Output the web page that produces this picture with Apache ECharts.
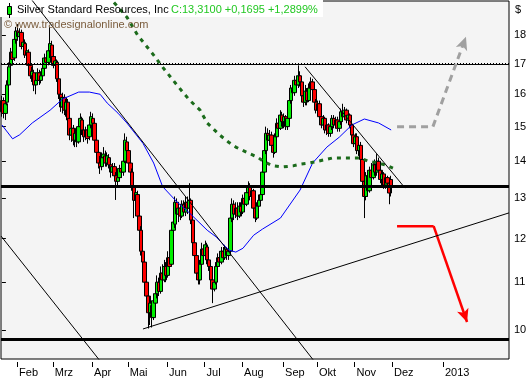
<!DOCTYPE html>
<html><head><meta charset="utf-8">
<script src="https://cdn.jsdelivr.net/npm/echarts@6/dist/echarts.min.js"></script>
<style>html,body{margin:0;padding:0;background:#fff}#c{width:531px;height:380px}</style>
</head><body><div id="c"></div>
<script>
// ---- data ----
const opens=[15.45,15.80,15.40,15.75,16.30,16.95,17.40,17.20,17.85,18.15,
17.95,18.10,17.60,17.70,17.30,17.40,16.95,16.60,16.70,16.30,
16.45,16.70,16.45,16.60,16.85,17.20,17.05,17.45,17.65,17.25,
16.95,17.05,16.50,16.00,15.60,15.90,15.50,15.75,15.25,14.75,
14.95,14.60,14.80,14.55,15.00,15.20,14.90,14.70,14.90,14.70,
15.05,15.25,15.10,14.60,14.25,13.95,13.85,14.10,14.15,13.95,
14.10,13.90,13.70,13.85,13.60,13.45,13.55,13.80,13.70,14.00,
14.55,14.30,13.95,13.70,13.30,12.95,13.10,12.55,12.20,11.70,
11.45,11.00,10.70,10.35,10.50,10.25,10.55,10.75,11.00,10.80,
11.20,11.05,11.35,11.15,11.55,11.40,12.20,12.35,12.90,12.60,
12.75,12.55,12.85,12.65,12.90,12.75,12.95,12.45,11.90,11.60,
11.20,11.05,11.40,11.75,11.60,11.80,11.50,11.35,11.05,10.85,
11.00,11.35,11.55,11.45,11.70,11.55,11.75,11.60,11.70,12.50,
12.85,12.60,12.75,12.55,12.80,12.65,13.00,12.85,13.15,13.30,
13.05,13.20,12.75,12.50,12.80,12.95,13.10,13.70,14.30,14.80,
14.60,14.75,14.45,14.25,14.70,15.10,14.95,15.35,15.15,15.30,
15.00,15.25,15.80,16.20,16.05,16.45,16.30,16.60,16.40,15.95,
15.75,16.10,15.80,16.20,16.40,16.15,15.75,15.50,15.70,15.30,
15.05,15.25,14.90,15.05,14.80,15.00,15.25,15.05,15.20,14.95,
15.15,15.45,15.30,15.50,15.20,15.35,15.05,14.75,14.50,14.70,
14.30,14.45,14.05,13.45,13.05,13.60,13.20,13.75,13.55,13.90,
13.70,14.00,13.75,13.50,13.65,13.35,13.55,13.40,13.50];
const closes=[15.80,15.40,15.70,16.30,16.90,17.40,17.15,17.85,18.15,17.95,
18.10,17.60,17.75,17.30,17.45,16.95,16.60,16.75,16.30,16.45,
16.70,16.45,16.60,16.85,17.20,17.05,17.45,17.70,17.25,16.95,
17.10,16.50,16.00,15.60,15.90,15.50,15.75,15.20,14.75,14.95,
14.60,14.80,14.55,15.00,15.25,14.90,14.70,14.90,14.65,15.05,
15.30,15.10,14.60,14.25,13.95,13.85,14.10,14.20,13.95,14.15,
13.90,13.70,13.85,13.60,13.45,13.55,13.80,13.70,14.00,14.60,
14.30,13.95,13.70,13.30,12.95,13.15,12.55,12.20,11.70,11.45,
11.00,10.70,10.35,10.55,10.25,10.60,10.75,11.00,10.80,11.20,
11.05,11.35,11.15,11.55,11.35,12.20,12.40,12.90,12.60,12.75,
12.55,12.85,12.65,12.90,12.75,12.95,12.45,11.90,11.60,11.20,
11.05,11.40,11.75,11.60,11.85,11.50,11.35,11.05,10.85,11.00,
11.35,11.55,11.45,11.70,11.55,11.75,11.60,11.70,12.50,12.85,
12.60,12.75,12.55,12.80,12.65,13.00,12.85,13.15,13.30,13.05,
13.20,12.75,12.50,12.80,12.95,13.10,13.70,14.30,14.80,14.60,
14.75,14.45,14.25,14.70,15.10,14.95,15.35,15.15,15.30,15.00,
15.25,15.80,16.20,16.05,16.45,16.30,16.60,16.40,15.95,15.75,
16.10,15.80,16.20,16.40,16.15,15.75,15.50,15.70,15.30,15.05,
15.25,14.90,15.05,14.80,15.00,15.25,15.05,15.20,14.95,15.15,
15.45,15.30,15.50,15.20,15.35,15.05,14.75,14.50,14.70,14.30,
14.45,14.05,13.45,13.05,13.60,13.20,13.75,13.55,13.90,13.70,
14.00,13.75,13.50,13.65,13.35,13.55,13.40,13.14,13.31];
const lows=[15.30,15.25,15.20,15.65,16.20,16.80,17.00,17.10,17.70,17.80,
17.75,17.50,17.35,17.20,17.10,16.85,16.50,16.40,16.10,16.00,
16.35,16.30,16.35,16.50,16.75,16.90,16.95,17.20,17.10,16.85,
16.80,16.40,15.85,15.45,15.40,15.35,15.30,15.10,14.60,14.55,
14.45,14.40,14.40,14.50,14.90,14.75,14.55,14.60,14.50,14.60,
14.95,14.90,14.45,14.10,13.80,13.65,13.75,13.95,13.85,13.85,
13.80,13.55,13.60,13.50,12.96,13.35,13.45,13.55,13.60,13.95,
14.10,13.85,13.55,13.20,12.50,12.80,12.45,12.05,11.60,11.30,
10.90,10.60,10.03,10.10,10.05,10.20,10.40,10.65,10.70,10.75,
10.95,11.00,11.00,11.10,11.20,11.35,12.05,12.25,12.45,12.40,
12.45,12.50,12.55,12.55,12.60,12.70,12.35,11.80,11.45,11.05,
10.95,10.95,11.35,11.45,11.50,11.40,11.25,10.95,10.55,10.80,
10.95,11.25,11.35,11.40,11.45,11.50,11.50,11.50,11.65,12.40,
12.45,12.50,12.45,12.50,12.55,12.60,12.75,12.80,13.05,12.95,
12.95,12.65,12.40,12.45,12.70,12.85,13.05,13.65,14.20,14.45,
14.45,14.35,14.10,14.20,14.60,14.80,14.90,15.00,14.95,14.90,
14.90,15.20,15.70,15.90,15.95,16.15,16.20,16.25,15.80,15.60,
15.65,15.65,15.75,16.05,16.00,15.65,15.40,15.40,15.20,14.95,
14.95,14.80,14.75,14.70,14.70,14.90,14.95,14.95,14.85,14.85,
15.05,15.15,15.20,15.10,15.05,14.95,14.60,14.40,14.35,14.20,
14.15,13.95,13.35,12.50,12.95,13.05,13.15,13.45,13.50,13.60,
13.60,13.65,13.40,13.35,13.25,13.25,13.25,12.85,13.05];
const highs=[15.95,15.90,15.85,16.45,17.05,17.55,17.60,18.00,18.30,18.40,
18.25,18.20,17.90,17.85,17.60,17.50,17.05,16.90,16.80,16.60,
16.85,16.80,16.75,16.95,17.35,17.40,17.55,18.30,17.80,17.35,
17.25,17.15,16.60,16.10,16.05,16.00,15.85,15.85,15.40,15.10,
15.05,14.95,14.95,15.10,15.40,15.30,15.05,15.00,15.00,15.15,
15.45,15.40,15.20,14.70,14.35,14.15,14.25,14.40,14.30,14.25,
14.20,14.00,13.95,13.95,13.70,13.70,13.90,13.95,14.10,14.80,
14.70,14.40,14.05,13.80,13.40,13.30,13.20,12.65,12.30,11.85,
11.55,11.10,10.80,10.70,10.60,10.75,10.90,11.15,11.10,11.35,
11.40,11.50,11.45,11.70,11.75,12.40,12.55,13.05,13.00,12.90,
12.85,12.95,12.95,13.05,13.05,13.40,13.00,12.50,12.00,11.70,
11.35,11.50,11.90,11.85,11.95,11.90,11.60,11.45,11.15,11.10,
11.45,11.65,11.70,11.80,11.80,11.85,11.80,11.80,12.60,13.00,
12.95,12.90,12.90,12.90,12.90,13.10,13.15,13.25,13.45,13.40,
13.35,13.25,12.85,12.90,13.10,13.20,13.80,14.40,15.00,14.95,
14.90,14.85,14.55,14.80,15.25,15.20,15.50,15.45,15.40,15.35,
15.35,15.95,16.30,16.40,16.60,16.60,16.95,16.75,16.50,16.10,
16.30,16.20,16.35,16.55,16.50,16.20,15.85,15.80,15.80,15.40,
15.35,15.30,15.15,15.10,15.10,15.35,15.35,15.30,15.30,15.25,
15.55,15.70,15.60,15.55,15.45,15.40,15.10,14.85,14.80,14.80,
14.55,14.55,14.15,13.55,13.70,13.75,13.85,13.95,14.00,14.05,
14.20,14.10,13.85,13.75,13.70,13.60,13.60,13.50,13.60];

// moving averages (trading-day index, price)
const blueX=[0,6,10,17,27,34,43,49,55,59,65,70,74,79,85,90,98,105,115,120,127,131,135,141,146,156,167,174,182,189,196,203,211,218];
const blueY=[15.05,14.64,14.76,15.11,15.50,15.85,16.07,16.07,16.00,15.72,15.41,15.11,14.84,14.51,13.95,13.31,12.91,12.63,12.20,12.04,11.73,11.68,11.77,12.08,12.23,12.50,13.22,13.95,14.40,14.69,15.05,15.23,15.11,14.90];
const greenX=[60,62,70,76,85,90,98,105,111,115,122,127,131,138,143,147,152,157,163,167,172,177,185,191,201,205,211,215,219];
const greenY=[19.50,19.27,18.66,18.00,17.30,16.89,16.30,15.82,15.50,15.11,14.75,14.54,14.40,14.23,14.12,13.98,13.87,13.84,13.87,13.92,13.95,14.00,14.09,14.09,14.09,14.00,13.95,13.89,13.81];

// trend lines and arrows (index, price)
const trend1=[[14.6,19.50],[176.5,9.33]];
const trend2=[[-0.5,12.06],[55.5,9.38]];
const trend3=[[79.0,10.02],[284,12.63]];
const trend4=[[169.8,16.90],[225.8,13.27]];
const grayArrow=[[221.3,15.0],[241.4,15.0],[259.9,17.94]];
const redArrow=[[221.3,12.30],[241.8,12.30],[260.5,10.16]];
const levels={resist:17.0, close:13.31, support:9.82};

// axes
const xTickPos=[8.5,28.5,50.5,70.5,92.5,113.5,134.5,157.5,176.5,197.5,218.5,247];
const xTickLabels=['Feb','Mrz','Apr','Mai','Jun','Jul','Aug','Sep','Okt','Nov','Dez','2013'];
const yTicks=[10,11,12,13,14,15,16,17,18];

const FONT='"Liberation Sans", Arial, sans-serif';
const candles=opens.map((o,i)=>[i,o,closes[i],lows[i],highs[i]]);
const zip=(a,b)=>a.map((v,i)=>[v,b[i]]);

function arrowSeries(pts,color,dash,w){
  return {type:'line',data:pts.slice(0,2),symbol:'none',z:6,
    lineStyle:{color:color,width:w,type:dash},emphasis:{disabled:true},
    markLine:{silent:true,symbol:['none','arrow'],symbolSize:12,label:{show:false},emphasis:{disabled:true},
      lineStyle:{color:color,width:w,type:dash},itemStyle:{color:color},
      data:[[{coord:pts[1],symbol:'none'},{coord:pts[2],symbol:'arrow',symbolSize:[9,13],itemStyle:{color:color}}]]}};
}

const chart=echarts.init(document.getElementById('c'),null,{renderer:'canvas'});
const thin={color:'#000',width:1,type:'solid'};
chart.setOption({
  animation:false,
  backgroundColor:'#ffffff',
  grid:{left:1,top:1,width:508,height:358,show:true,backgroundColor:'#f4f4f4',borderColor:'#000',borderWidth:1},
  xAxis:{type:'value',min:-0.5,max:284,offset:3,
    axisLine:{show:false},splitLine:{show:false},
    axisTick:{show:true,customValues:xTickPos,length:5,lineStyle:{color:'#000',width:1}},
    axisLabel:{customValues:xTickPos,formatter:v=>xTickLabels[xTickPos.indexOf(v)]||'',
      align:'left',margin:5,padding:[0,0,0,2],fontSize:11,fontFamily:FONT,color:'#000'}},
  yAxis:{type:'log',logBase:10,min:9.438,max:19.27,position:'right',offset:2,
    axisLine:{show:false},splitLine:{show:false},minorTick:{show:false},
    axisTick:{show:true,customValues:yTicks,length:4,lineStyle:{color:'#000',width:1}},
    axisLabel:{customValues:yTicks,formatter:v=>String(Math.round(v)),margin:3,fontSize:11,fontFamily:FONT,color:'#000'}},
  series:[
    {type:'candlestick',data:candles,encode:{x:0,y:[1,2,3,4]},barWidth:4,z:2,
      itemStyle:{color:'#00ee00',color0:'#ff0000',borderColor:'#000',borderColor0:'#000',borderColorDoji:'#000',borderWidth:1},
      emphasis:{disabled:true},
      markLine:{silent:true,symbol:['none','none'],label:{show:false},emphasis:{disabled:true},animation:false,
        data:[
          {yAxis:levels.resist,lineStyle:{color:'#000',width:1,type:'solid'}},
          {yAxis:levels.resist*1.002,lineStyle:{color:'#000',width:1,type:[1,2]}},
          {yAxis:levels.close,lineStyle:{color:'#000',width:3,type:'solid'}},
          {yAxis:levels.support,lineStyle:{color:'#000',width:3,type:'solid'}}
        ]}},
    {type:'line',data:zip(blueX,blueY),symbol:'none',z:3,lineStyle:{color:'#0000ff',width:1},emphasis:{disabled:true}},
    {type:'line',data:zip(greenX,greenY),symbol:'none',z:4,lineStyle:{color:'#1b6b1b',width:3,type:[4,5]},emphasis:{disabled:true}},
    {type:'line',data:trend1,symbol:'none',z:5,lineStyle:thin,emphasis:{disabled:true}},
    {type:'line',data:trend2,symbol:'none',z:5,lineStyle:thin,emphasis:{disabled:true}},
    {type:'line',data:trend3,symbol:'none',z:5,lineStyle:thin,emphasis:{disabled:true}},
    {type:'line',data:trend4,symbol:'none',z:5,lineStyle:thin,emphasis:{disabled:true}},
    arrowSeries(grayArrow,'#a0a0a0',[7,5],3),
    arrowSeries(redArrow,'#ff0000','solid',2.5)
  ],
  graphic:[
    {type:'rect',shape:{x:0,y:0,width:323,height:17},style:{fill:'#ffffff'},z:1},
    {type:'line',shape:{x1:9.5,y1:3,x2:9.5,y2:18},style:{stroke:'#000',lineWidth:1},z:101},
    {type:'rect',shape:{x:7.5,y:6.5,width:4,height:8},style:{fill:'#00ee00',stroke:'#000',lineWidth:1},z:102},
    {type:'text',x:17,y:10,z:103,style:{text:'Silver Standard Resources, Inc',fontSize:11,fontFamily:FONT,fill:'#000',verticalAlign:'middle'}},
    {type:'text',x:171,y:10,z:103,style:{text:'C:13,3100 +0,1695 +1,2899%',fontSize:11,fontFamily:FONT,fill:'#22c822',verticalAlign:'middle'}},
    {type:'text',x:4,y:25,z:103,style:{text:'© www.tradesignalonline.com',fontSize:11,fontFamily:FONT,fill:'#7a5c3c',verticalAlign:'middle'}},
    {type:'text',x:515,y:10,z:103,style:{text:'$',fontSize:11,fontFamily:FONT,fill:'#000',verticalAlign:'middle'}}
  ]
});
</script></body></html>
